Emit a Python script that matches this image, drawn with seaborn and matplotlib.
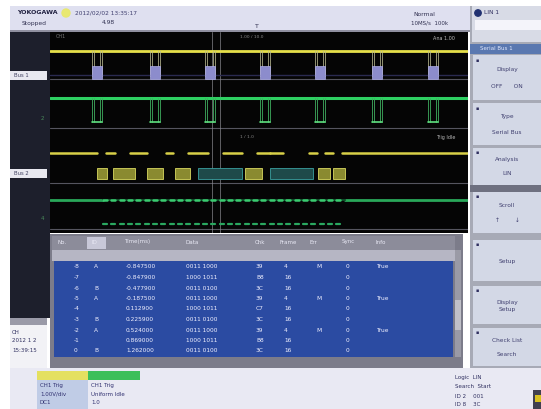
import matplotlib
matplotlib.use("Agg")
import matplotlib.pyplot as plt
import matplotlib.patches as mpatches
import numpy as np
import pandas as pd
import seaborn as sns

sns.set_theme(style="white")
plt.rcParams['font.family'] = ['DejaVu Sans']

# ---------------- data (read from the screen) ----------------
# time axis in screen samples (0 .. 418)
ch1_pulses = [42, 100, 155, 210, 265, 322, 378]          # CH1 pulse starts
ch1_pulse_width = 10
ch1_high, ch1_low = 51, 76
bus1_high, bus1_low = 66, 79

ch2_high, ch2_low = 98, 122

bus2_bursts = [(0, 47), (56, 65), (80, 97), (116, 123), (138, 158), (173, 192),
               (207, 220), (220, 233), (259, 267), (275, 283), (292, 418)]
bus2_level = 153
frames_yellow = [(47, 57), (63, 85), (97, 113), (125, 140), (195, 212), (268, 280), (283, 295)]
frames_teal = [(148, 192), (220, 263)]
frame_y = (168, 179)

clk_ticks = [53, 61, 70, 78, 86, 95, 103, 111, 120, 128, 136, 145, 153, 161, 170,
             178, 186, 195, 203, 211, 220, 228, 236, 245, 253, 261, 270, 278, 286]
clk1_level, clk2_level = 200, 224

table_cols = ["No.", "ID", "Time(ms)", "Data", "Chk", "Frame", "Err", "Sync", "Info"]
row_no = ["-8", "-7", "-6", "-5", "-4", "-3", "-2", "-1", "0"]
row_id = ["A", "", "B", "A", "", "B", "A", "", "B"]
row_time = ["-0.847500", "-0.847900", "-0.477900", "-0.187500", "0.112900",
            "0.225900", "0.524000", "0.869000", "1.262000"]
row_data = ["0011 1000", "1000 1011", "0011 0100", "0011 1000", "1000 1011",
            "0011 0100", "0011 1000", "1000 1011", "0011 0100"]
row_chk = ["39", "B8", "3C", "39", "C7", "3C", "39", "B8", "3C"]
row_frame = ["4", "16", "16", "4", "16", "16", "4", "16", "16"]
row_err = ["M", "", "", "M", "", "", "M", "", ""]
row_sync = ["0", "0", "0", "0", "0", "0", "0", "0", "0"]
row_info = ["True", "", "", "True", "", "", "True", "", ""]

menu_items = [("Display", "OFF      ON"), ("Type", "Serial Bus"), ("Analysis", "LIN"),
              ("Scroll", "↑        ↓"), ("Setup", ""), ("Display\nSetup", ""),
              ("Check List", "Search")]

# ---------------- figure ----------------
W, H = 541, 409
fig = plt.figure(figsize=(W / 100, H / 100), dpi=100)
bg = fig.add_axes([0, 0, 1, 1])
bg.set_xlim(0, W)
bg.set_ylim(H, 0)
bg.axis("off")


def rect(x0, y0, x1, y1, color, z=0, **kw):
    bg.add_patch(mpatches.Rectangle((x0, y0), x1 - x0, y1 - y0, facecolor=color,
                                    edgecolor=kw.pop("ec", "none"), lw=kw.pop("lw", 0),
                                    zorder=z, **kw))


def txt(x, y, s, size=4.5, color="#303050", **kw):
    bg.text(x, y, s, fontsize=size, color=color, va="center", zorder=10, **kw)


rect(0, 0, W, H, "white")
# header
rect(10, 6, 470, 31, "#dfe0f0")
txt(17, 13, "YOKOGAWA", 4.5, "#202040", weight="bold")
bg.add_patch(mpatches.Circle((66, 13), 4, color="#e8e870", zorder=5))
txt(75, 13, "2012/02/02 13:35:17", 4.2, "#404070")
txt(22, 23, "Stopped", 4.3, "#303050")
txt(102, 23, "4.98", 4.3, "#303050")
txt(413, 14, "Normal", 4.3, "#303050")
txt(411, 23, "10MS/s  100k", 4.0, "#303050")
txt(255, 26, "T", 4.5, "#303050")
rect(10, 30, 470, 32, "#9090a0", 1)

# left strip
rect(10, 32, 50, 318, "#1d1f2c")
rect(10, 71, 47, 80, "#e8e8f0", 2)
rect(10, 169, 47, 178, "#e8e8f0", 2)
txt(14, 75.5, "Bus 1", 3.8, "#404060")
txt(14, 173.5, "Bus 2", 3.8, "#404060")
txt(41, 119, "2", 4, "#4a8a5a")
txt(41, 218, "4", 4, "#4a8a5a")
rect(10, 318, 47, 325, "#9a9aa8")
rect(10, 325, 47, 368, "#f2f2f6")
txt(12, 332, "CH", 4, "#303060")
txt(12, 341, "2012 1 2", 4, "#303060")
txt(12, 350, "15:39:15", 4, "#303060")

# right panel
rect(470, 6, W, 368, "#a7aab6")
rect(472, 6, W, 42, "#d8dbe6")
bg.add_patch(mpatches.Circle((478, 13), 3.2, color="#203070", zorder=5))
txt(484, 13, "LIN 1", 4.2, "#303060")
rect(475, 20, W, 30, "#f4f4fa", 3)
rect(470, 44, W, 54, "#5a78b0", 2)
txt(480, 49, "Serial Bus 1", 4.0, "#e0e8ff")
menu_box = [(55, 100), (103, 145), (148, 185), (192, 233), (240, 281), (286, 324), (328, 366)]
for (y0, y1), (a, b) in zip(menu_box, menu_items):
    rect(473, y0, W, y1, "#d3d8e6", 2)
    bg.text(476, y0 + 5, "▪", fontsize=3.5, color="#303060", zorder=10, va="center")
    if b:
        txt(507, y0 + (y1 - y0) * 0.32, a, 4.2, "#404070", ha="center")
        txt(507, y0 + (y1 - y0) * 0.7, b, 4.2, "#404070", ha="center")
    else:
        txt(507, (y0 + y1) / 2 + 1, a, 4.2, "#404070", ha="center", linespacing=1.3)
rect(470, 185, W, 192, "#6e7080", 2)

# bottom bar
rect(10, 368, W, H, "#e9e9f3")
rect(37, 371, 88, 380, "#e4e060", 2)
rect(88, 371, 140, 380, "#3cbf5a", 2)
rect(37, 380, 88, H, "#c0cce6", 2)
txt(40, 385, "CH1 Trig", 4, "#303070")
txt(40, 394, "1.00V/div", 4, "#303070")
txt(40, 403, "DC1", 4, "#303070")
txt(91, 385, "CH1 Trig", 4, "#303070")
txt(91, 394, "Uniform Idle", 4, "#303070")
txt(91, 403, "1.0", 4, "#303070")
txt(455, 378, "Logic  LIN", 4, "#303060")
txt(455, 387, "Search  Start", 4, "#303060")
txt(455, 396, "ID 2    001", 4, "#303060")
txt(455, 405, "ID 8    3C", 4, "#303060")
rect(533, 390, W, H, "#404050", 3)
rect(535, 395, W, 402, "#d8c020", 4)

# ---------------- waveform axes ----------------
x0, x1, y0, y1 = 50, 468, 32, 233
wax = fig.add_axes([x0 / W, 1 - y1 / H, (x1 - x0) / W, (y1 - y0) / H])
wax.set_facecolor("#050505")
wax.set_xlim(0, 418)
wax.set_ylim(201 + 32, 32)
wax.set_xticks([]); wax.set_yticks([])
for s in wax.spines.values():
    s.set_visible(False)

# zone separators and cursors
for yy in [79, 128, 183, 229]:
    wax.axhline(yy, color="#55555f", lw=0.8)
for cx in [162, 170]:
    wax.axvline(cx, color="#8a8a90", lw=0.6, alpha=0.8)
wax.text(6, 38, "CH1", fontsize=3.5, color="#777")
wax.text(405, 38, "Ana 1.00", fontsize=3.5, color="#bbb", ha="right", va="center")
wax.text(405, 138, "Trig Idle", fontsize=3.5, color="#bbb", ha="right", va="center")
wax.text(190, 37, "1.00 / 10.0", fontsize=3.2, color="#888", va="center")
wax.text(190, 137, "1 / 1.0", fontsize=3.2, color="#888", va="center")


def lines_df(segs):
    rows = []
    for k, pts in enumerate(segs):
        for j, (xx, yy) in enumerate(pts):
            rows.append({"t": xx, "v": yy, "seg": k, "o": j})
    return pd.DataFrame(rows)


def draw(segs, color, lw, alpha=1.0):
    df = lines_df(segs)
    sns.lineplot(data=df, x="t", y="v", units="seg", estimator=None, sort=False,
                 color=color, lw=lw, alpha=alpha, ax=wax, legend=False)


# CH1 yellow level and pulses
draw([[(0, ch1_high), (418, ch1_high)]], "#e6e04a", 2.0)
edges = []
for p in ch1_pulses:
    for e in [p, p + 2, p + ch1_pulse_width - 2, p + ch1_pulse_width]:
        edges.append([(e, ch1_high), (e, ch1_low)])
draw(edges, "#b8b890", 0.7, 0.8)
for p in ch1_pulses:
    wax.add_patch(mpatches.Rectangle((p, bus1_high), ch1_pulse_width, bus1_low - bus1_high,
                                     facecolor="#8c8ccc", edgecolor="#b0b0e8", lw=0.5, zorder=3))
draw([[(0, 75), (418, 75)]], "#2a2a50", 1.0)

# CH2 green level and pulses
draw([[(0, ch2_high), (418, ch2_high)]], "#2ed062", 2.2)
edges = []
for p in ch1_pulses:
    for e in [p, p + 2, p + ch1_pulse_width - 2, p + ch1_pulse_width]:
        edges.append([(e, ch2_high), (e, ch2_low)])
draw(edges, "#40b060", 0.7, 0.85)
draw([[(p, ch2_low), (p + ch1_pulse_width, ch2_low)] for p in ch1_pulses], "#60e080", 1.2)

# Bus 2 yellow bursts
draw([[(a, bus2_level), (b, bus2_level)] for a, b in bus2_bursts], "#d8d048", 1.8)
for a, b in frames_yellow:
    wax.add_patch(mpatches.Rectangle((a, frame_y[0]), b - a, frame_y[1] - frame_y[0],
                                     facecolor="#8a8a30", edgecolor="#d8d860", lw=0.6, zorder=3))
for a, b in frames_teal:
    wax.add_patch(mpatches.Rectangle((a, frame_y[0]), b - a, frame_y[1] - frame_y[0],
                                     facecolor="#1e4a4a", edgecolor="#3aa0a0", lw=0.6, zorder=3))

# clock lines
draw([[(0, clk1_level), (53, clk1_level)], [(295, clk1_level), (418, clk1_level)]], "#2aa85a", 2.0)
draw([[(53, clk1_level), (295, clk1_level)]], "#0f4a28", 1.5)
draw([[(t, clk1_level), (t + 4, clk1_level)] for t in clk_ticks], "#3acc70", 1.8)
draw([[(t, clk2_level), (t + 4, clk2_level)] for t in clk_ticks], "#2aa860", 1.6)

# ---------------- table ----------------
tx0, tx1, ty0, ty1 = 50, 463, 234, 368
rect(tx0, ty0, tx1, ty1, "#7c7c8a", 1)
rect(tx0 + 2, ty0 + 2, tx1 - 8, 250, "#8c8c9a", 2)
rect(87, ty0 + 3, 106, 249, "#c8c8d8", 3)
rect(tx0 + 2, 250, tx1 - 8, 261, "#b6b6c4", 2)
rect(tx0 + 4, 261, tx1 - 10, 357, "#2b4ba2", 2)
rect(455, 250, 461, 357, "#9a9aa6", 2)
rect(455, 300, 461, 330, "#c0c0c8", 3)
col_x = [58, 92, 124, 186, 255, 280, 310, 342, 376]
for cx, name in zip(col_x, table_cols):
    txt(cx, 242, name, 4, "#e8e8f4")
row_y0, row_h = 267, 10.5
cols = [row_no, row_id, row_time, row_data, row_chk, row_frame, row_err, row_sync, row_info]
rx = [74, 94, 126, 186, 256, 284, 316, 346, 376]
for i in range(len(row_no)):
    y = row_y0 + i * row_h
    for cx, col in zip(rx, cols):
        txt(cx, y, col[i], 4.2, "#f0f0ff")

fig.savefig("out.png", dpi=100)
